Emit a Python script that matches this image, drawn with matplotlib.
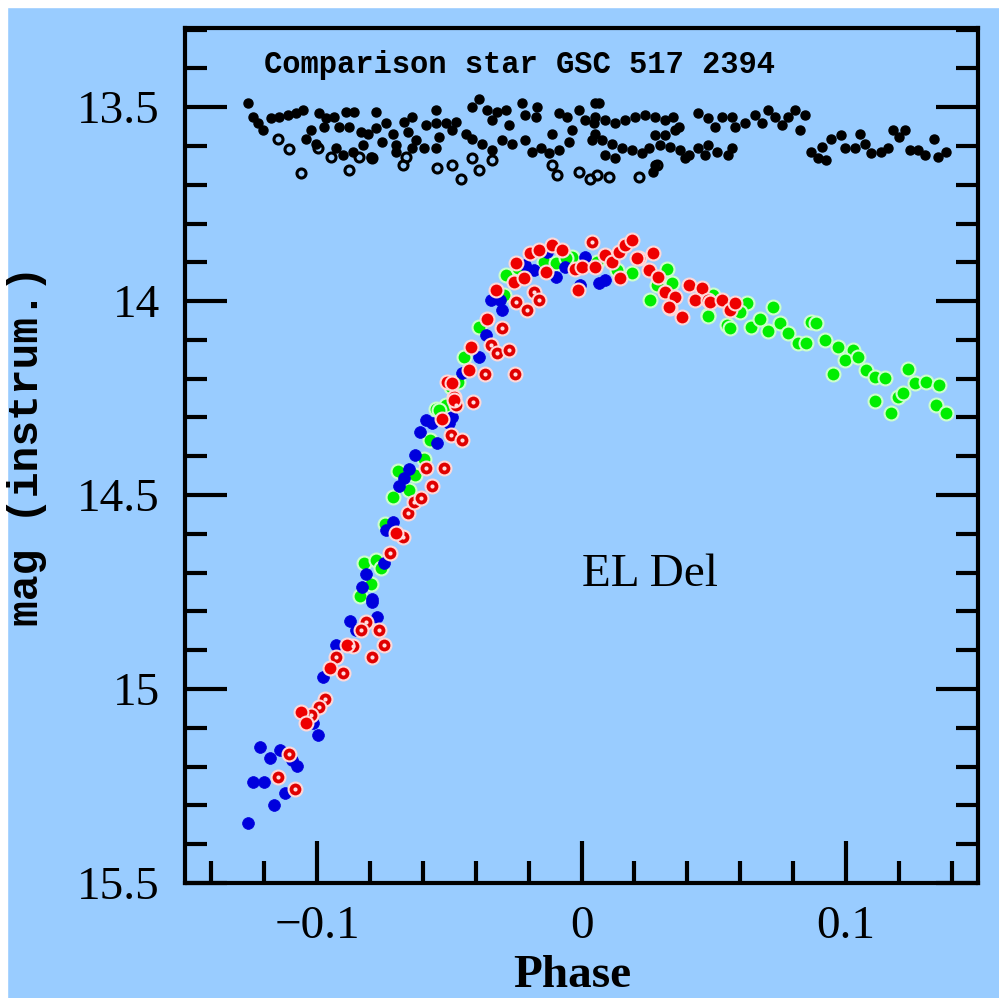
import matplotlib
matplotlib.use("Agg")
import matplotlib.pyplot as plt
from matplotlib.patches import Rectangle
from matplotlib.ticker import MultipleLocator

# comparison star, filled points
comp_phase = [-0.1262, -0.1243, -0.1225, -0.1206, -0.1174, -0.1143, -0.1111, -0.1080, -0.1055, -0.0992,
              -0.0966, -0.0935, -0.0973, -0.0916, -0.0878, -0.0891, -0.0860, -0.0778, -0.1023, -0.1042,
              -0.1004, -0.0929, -0.0904, -0.0866, -0.0828, -0.0797, -0.0834, -0.0809, -0.0778, -0.0740,
              -0.0753, -0.0715, -0.0702, -0.0671, -0.0640, -0.0658, -0.0627, -0.0589, -0.0551, -0.0551,
              -0.0539, -0.0514, -0.0489, -0.0476, -0.0595, -0.0551, -0.0640, -0.0702, -0.0438, -0.0413,
              -0.0388, -0.0357, -0.0319, -0.0287, -0.0338, -0.0275, -0.0225, -0.0212, -0.0168, -0.0174,
              -0.0413, -0.0375, -0.0338, -0.0300, -0.0262, -0.0212, -0.0187, -0.0155, -0.0124, -0.0111,
              -0.0086, -0.0055, -0.0036, -0.0011, 0.0015, 0.0052, 0.0046, 0.0040, -0.0048, -0.0086,
              0.0065, 0.0052, 0.0090, 0.0128, 0.0166, 0.0203, 0.0241, 0.0279, 0.0317, 0.0348,
              0.0367, 0.0052, 0.0077, 0.0115, 0.0153, 0.0191, 0.0228, 0.0254, 0.0090, 0.0128,
              0.0279, 0.0317, 0.0354, 0.0298, 0.0335, 0.0373, 0.0405, 0.0442, 0.0480, 0.0511,
              0.0555, 0.0568, 0.0468, 0.0392, 0.0279, 0.0272, 0.0442, 0.0480, 0.0505, 0.0530,
              0.0568, 0.0581, 0.0618, 0.0656, 0.0681, 0.0706, 0.0732, 0.0757, 0.0782, 0.0807,
              0.0845, 0.0826, 0.0870, 0.0895, 0.0926, 0.0908, 0.0945, 0.0983, 0.0996, 0.1034,
              0.1052, 0.1071, 0.1096, 0.1134, 0.1159, 0.1178, 0.1203, 0.1222, 0.1241, 0.1272,
              0.1298, 0.1335, 0.1348, 0.1379]
comp_mag = [13.490, 13.525, 13.542, 13.559, 13.529, 13.525, 13.521, 13.516, 13.508, 13.516,
            13.529, 13.525, 13.551, 13.551, 13.551, 13.512, 13.512, 13.512, 13.559, 13.581,
            13.594, 13.606, 13.624, 13.615, 13.598, 13.628, 13.564, 13.568, 13.555, 13.542,
            13.589, 13.568, 13.598, 13.538, 13.525, 13.564, 13.585, 13.546, 13.508, 13.542,
            13.577, 13.542, 13.559, 13.538, 13.606, 13.606, 13.606, 13.615, 13.568, 13.499,
            13.478, 13.508, 13.512, 13.508, 13.534, 13.546, 13.490, 13.521, 13.499, 13.525,
            13.581, 13.594, 13.611, 13.585, 13.594, 13.585, 13.615, 13.606, 13.619, 13.568,
            13.516, 13.525, 13.559, 13.508, 13.534, 13.490, 13.542, 13.585, 13.589, 13.611,
            13.490, 13.525, 13.534, 13.542, 13.534, 13.525, 13.521, 13.525, 13.534, 13.525,
            13.551, 13.568, 13.585, 13.594, 13.606, 13.611, 13.619, 13.606, 13.624, 13.632,
            13.572, 13.572, 13.559, 13.598, 13.602, 13.611, 13.624, 13.606, 13.598, 13.615,
            13.624, 13.606, 13.624, 13.632, 13.649, 13.667, 13.516, 13.529, 13.551, 13.525,
            13.525, 13.551, 13.542, 13.521, 13.542, 13.508, 13.525, 13.546, 13.525, 13.508,
            13.521, 13.559, 13.615, 13.632, 13.637, 13.602, 13.581, 13.572, 13.606, 13.606,
            13.568, 13.594, 13.619, 13.615, 13.606, 13.559, 13.577, 13.559, 13.611, 13.611,
            13.624, 13.581, 13.628, 13.615]

# comparison star, open points
comp_open_phase = [-0.1149, -0.1105, -0.1061, -0.0998, -0.0948, -0.0878, -0.0841, -0.0791, -0.0677, -0.0665,
                   -0.0545, -0.0489, -0.0457, -0.0388, -0.0413, -0.0338, -0.0111, -0.0092, -0.0011, 0.0034,
                   0.0058, 0.0103, 0.0216, 0.0285]
comp_open_mag = [13.581, 13.609, 13.671, 13.606, 13.628, 13.661, 13.628, 13.632, 13.649, 13.628,
                 13.658, 13.649, 13.684, 13.661, 13.632, 13.637, 13.649, 13.675, 13.667, 13.684,
                 13.675, 13.681, 13.681, 13.649]

# EL Del, blue set
blue_phase = [-0.1262, -0.1162, -0.1243, -0.1202, -0.1120, -0.1218, -0.1178, -0.1140, -0.1076, -0.1095,
              -0.0998, -0.1017, -0.0977, -0.0929, -0.0876, -0.0772, -0.0853, -0.0792, -0.0793, -0.0831,
              -0.0816, -0.0746, -0.0712, -0.0740, -0.0692, -0.0671, -0.0652, -0.0631, -0.0611, -0.0545,
              -0.0589, -0.0564, -0.0491, -0.0501, -0.0451, -0.0388, -0.0363, -0.0302, -0.0344, -0.0310,
              -0.0212, -0.0180, -0.0130, -0.0061, -0.0098, 0.0015, -0.0004, 0.0065, 0.0090]
blue_mag = [15.346, 15.299, 15.239, 15.239, 15.269, 15.149, 15.179, 15.157, 15.198, 15.183,
            15.119, 15.088, 14.970, 14.887, 14.824, 14.815, 14.848, 14.775, 14.768, 14.736,
            14.704, 14.674, 14.569, 14.590, 14.477, 14.457, 14.434, 14.397, 14.337, 14.367,
            14.307, 14.315, 14.298, 14.315, 14.186, 14.144, 14.088, 14.023, 13.997, 13.998,
            13.907, 13.920, 13.873, 13.912, 13.937, 13.886, 13.959, 13.954, 13.946]

# EL Del, green set
green_phase = [-0.0838, -0.0797, -0.0822, -0.0778, -0.0759, -0.0743, -0.0715, -0.0652, -0.0694, -0.0631,
               -0.0595, -0.0574, -0.0549, -0.0514, -0.0495, -0.0466, -0.0539, -0.0445, -0.0388, -0.0294,
               -0.0287, -0.0143, -0.0098, -0.0036, 0.0134, 0.0191, 0.0323, 0.0342, 0.0285, 0.0260,
               0.0480, -0.0240, -0.0060, 0.0060, 0.0499, 0.0480, 0.0549, 0.0562, 0.0625, 0.0600,
               0.0643, 0.0675, 0.0725, 0.0706, 0.0751, 0.0782, 0.0820, 0.0851, 0.0870, 0.0889,
               0.0920, 0.0971, 0.1027, 0.0996, 0.1046, 0.1077, 0.1109, 0.1147, 0.0952, 0.1109,
               0.1172, 0.1197, 0.1216, 0.1235, 0.1260, 0.1304, 0.1354, 0.1342, 0.1379]
green_mag = [14.760, 14.728, 14.674, 14.668, 14.689, 14.575, 14.506, 14.487, 14.437, 14.448,
             14.408, 14.358, 14.279, 14.268, 14.221, 14.208, 14.281, 14.144, 14.066, 13.985,
             13.933, 13.899, 13.903, 13.886, 13.920, 13.928, 13.916, 13.954, 13.959, 13.997,
             14.036, 13.915, 13.890, 13.900, 13.985, 14.039, 14.062, 14.070, 14.006, 14.028,
             14.066, 14.045, 14.016, 14.077, 14.057, 14.083, 14.109, 14.107, 14.053, 14.057,
             14.101, 14.118, 14.126, 14.152, 14.144, 14.178, 14.195, 14.199, 14.188, 14.257,
             14.288, 14.247, 14.238, 14.176, 14.212, 14.208, 14.216, 14.268, 14.288]

# EL Del, red set (filled)
red_phase = [-0.1061, -0.1042, -0.0950, -0.0886, -0.0700, -0.0526, -0.0482, -0.0508, -0.0482, -0.0489,
             -0.0426, -0.0419, -0.0357, -0.0323, -0.0256, -0.0218, -0.0249, -0.0193, -0.0162, -0.0111,
             -0.0136, -0.0074, -0.0023, 0.0002, 0.0052, -0.0013, 0.0090, 0.0115, 0.0140, 0.0166,
             0.0191, 0.0147, 0.0216, 0.0272, 0.0254, 0.0291, 0.0317, 0.0354, 0.0405, 0.0455,
             0.0430, 0.0480, 0.0335, 0.0379, 0.0210, 0.0486, 0.0530, 0.0562, 0.0581, 0.0332]
red_mag = [15.058, 15.088, 14.947, 14.887, 14.599, 14.305, 14.247, 14.208, 14.255, 14.212,
           14.178, 14.118, 14.047, 13.972, 13.950, 13.941, 13.903, 13.877, 13.869, 13.856,
           13.924, 13.869, 13.916, 13.912, 13.912, 13.972, 13.880, 13.899, 13.873, 13.856,
           13.843, 13.941, 13.890, 13.877, 13.920, 13.937, 13.976, 13.989, 13.959, 13.967,
           13.997, 13.997, 14.019, 14.040, 13.890, 14.002, 13.997, 14.023, 14.006, 14.016]

# EL Del, red set (open)
red_open_phase = [-0.1082, -0.1149, -0.1105, -0.0969, -0.0992, -0.1023, -0.0929, -0.0904, -0.0863, -0.0816,
                  -0.0765, -0.0746, -0.0791, -0.0834, -0.0725, -0.0677, -0.0655, -0.0633, -0.0608, -0.0589,
                  -0.0564, -0.0520, -0.0495, -0.0453, -0.0411, -0.0476, -0.0365, -0.0252, -0.0344, -0.0319,
                  -0.0275, -0.0300, -0.0249, -0.0206, -0.0180, -0.0162, 0.0040]
red_open_mag = [15.258, 15.226, 15.168, 15.026, 15.047, 15.067, 14.918, 14.958, 14.888, 14.826,
                14.848, 14.887, 14.917, 14.848, 14.649, 14.609, 14.546, 14.517, 14.508, 14.431,
                14.477, 14.430, 14.345, 14.358, 14.260, 14.268, 14.188, 14.188, 14.113, 14.135,
                14.126, 14.070, 14.002, 14.023, 13.976, 13.997, 13.847]

bg = '#99ccff'
fig = plt.figure(figsize=(9.99, 9.98), dpi=100, facecolor=bg)
# thin white margin along left and top edges
fig.patches.append(Rectangle((0, 0), 7 / 999, 1, transform=fig.transFigure, color='white', zorder=0))
fig.patches.append(Rectangle((0, 1 - 7 / 998), 1, 7 / 998, transform=fig.transFigure, color='white', zorder=0))

ax = fig.add_axes([185 / 999, 1 - 883 / 998, 793 / 999, 855 / 998])
ax.set_facecolor(bg)

# comparison star
ax.plot(comp_phase, comp_mag, 'o', color='black', ms=6.5, mec='black', zorder=3)
ax.plot(comp_open_phase, comp_open_mag, 'o', mfc='none', mec='black', ms=6.5, mew=2.2, zorder=3)

# variable star
ax.plot(green_phase, green_mag, 'o', color='#00ee00', ms=10, mec='#ccffcc', mew=1.5, zorder=4)
ax.plot(blue_phase, blue_mag, 'o', color='#0000dd', ms=8.5, mec='#0000dd', mew=0.5, zorder=5)
ax.plot(red_open_phase, red_open_mag, 'o', color='#e00000', ms=10, mec='#ffd8d8', mew=1.5, zorder=6)
ax.plot(red_open_phase, red_open_mag, 'o', color='#ffdddd', ms=3, mew=0, zorder=7)
ax.plot(red_phase, red_mag, 'o', color='#ee0000', ms=10, mec='#ffd8d8', mew=1.5, zorder=6)

ax.set_xlim(-0.15, 0.15)
ax.set_ylim(15.5, 13.296)

ax.xaxis.set_major_locator(MultipleLocator(0.1))
ax.xaxis.set_minor_locator(MultipleLocator(0.02))
ax.yaxis.set_major_locator(MultipleLocator(0.5))
ax.yaxis.set_minor_locator(MultipleLocator(0.1))
ax.set_xticks([-0.1, 0, 0.1])
ax.set_xticklabels(['\u22120.1', '0', '0.1'])
ax.set_yticks([13.5, 14, 14.5, 15, 15.5])
ax.set_yticklabels(['13.5', '14', '14.5', '15', '15.5'])

for s in ax.spines.values():
    s.set_linewidth(3)
ax.tick_params(which='both', direction='in', width=3, left=True, right=True, top=False, bottom=True,
               labelsize=34, labelfontfamily='Liberation Serif')
ax.tick_params(which='major', length=30)
ax.tick_params(which='minor', length=16)
ax.tick_params(axis='y', pad=18)
ax.tick_params(axis='x', pad=16)

ax.text(-0.120, 13.392, 'Comparison star GSC 517 2394', family='Liberation Mono', weight='bold',
        fontsize=22, va='center', ha='left')
ax.text(0.0, 14.706, 'EL Del', family='Liberation Serif', fontsize=34, va='center', ha='left')

fig.text(572 / 999, 11 / 998, 'Phase', family='Liberation Serif', weight='bold', fontsize=34,
         ha='center', va='baseline')
fig.text(27 / 999, 1 - 446 / 998, 'mag (instrum.)', family='Liberation Mono', weight='bold', fontsize=31,
         ha='center', va='center', rotation=90)

fig.savefig('out.png', dpi=100, facecolor=bg)
